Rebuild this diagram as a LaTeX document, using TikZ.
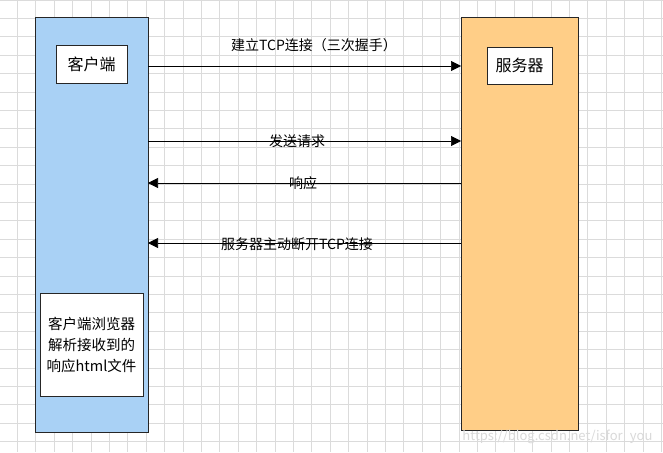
\documentclass[tikz,border=0pt]{standalone}
\usepackage{fontspec}
\setmainfont{Noto Sans CJK SC}
\usetikzlibrary{arrows.meta}
\begin{document}
\begin{tikzpicture}[x=1pt,y=-1pt,
  col/.style={draw=black!85,line width=0.9pt},
  box/.style={draw=black!85,fill=white,line width=0.7pt,inner sep=0pt,font=\fontsize{16}{19}\selectfont},
  msg/.style={line width=0.7pt,-{Triangle[length=10pt,width=10pt]}},
  lbl/.style={font=\fontsize{14}{16}\selectfont,inner sep=1pt}]
\useasboundingbox (0,0) rectangle (663,452);
\fill[white] (0,0) rectangle (663,452);
\foreach \i in {0,...,36} {\draw[black!14,line width=0.7pt] (\i*18.4-1,0) -- (\i*18.4-1,452);}
\foreach \i in {0,...,25} {\draw[black!14,line width=0.7pt] (0,\i*18.4) -- (663,\i*18.4);}
\draw[col,fill={rgb,255:red,169;green,209;blue,245}] (35,17) rectangle (148,432);
\draw[col,fill={rgb,255:red,255;green,206;blue,135}] (461,17) rectangle (578,430);
\node[box,minimum width=71pt,minimum height=38pt] (c) at (91.5,64) {客户端};
\node[box,minimum width=65pt,minimum height=37pt] (s) at (519.5,65.5) {服务器};
\node[box,minimum width=103pt,minimum height=103pt,align=center,font=\fontsize{14.5}{21}\selectfont] (p) at (91.5,344.5) {客户端浏览器\\解析接收到的\\响应html文件};
\coordinate (l1) at (148,66); \coordinate (r1) at (461,66);
\coordinate (l2) at (148,141); \coordinate (r2) at (461,141);
\coordinate (l3) at (148,183); \coordinate (r3) at (461,183);
\coordinate (l4) at (148,243); \coordinate (r4) at (461,243);
\draw[msg] (l1) -- (r1);
\draw[msg] (l2) -- (r2);
\draw[msg] (r3) -- (l3);
\draw[msg] (r4) -- (l4);
\node[lbl] (t1) at (314,45) {建立TCP连接（三次握手）};
\node[lbl] (t2) at (297,141) {发送请求};
\node[lbl] (t3) at (303,183) {响应};
\node[lbl] (t4) at (297,244) {服务器主动断开TCP连接};
\node[font=\fontsize{13}{15}\selectfont,text=black!15,anchor=east] (w) at (656,437) {https://blog.csdn.net/isfor\_you};
\end{tikzpicture}
\end{document}
